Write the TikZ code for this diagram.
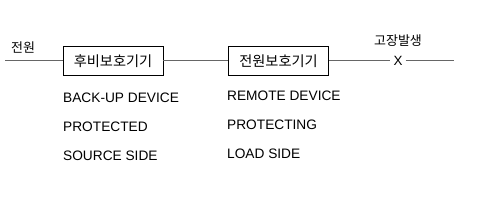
\documentclass[tikz,border=0pt]{standalone}
\usepackage{fontspec}
\setmainfont{Liberation Sans}
\newfontfamily\kr{Noto Sans CJK KR}
\begin{document}
\begin{tikzpicture}[x=1pt,y=1pt,
  devbox/.style={draw=black,line width=0.9pt,inner sep=0pt,minimum width=100pt,minimum height=29pt,font=\kr\fontsize{14.2}{16}\selectfont},
  conn/.style={draw=black!60,line width=1pt},
  lbl/.style={anchor=base west,inner sep=0pt,font=\fontsize{13.7}{16}\selectfont},
  krlbl/.style={inner sep=0pt,font=\kr\fontsize{13}{14}\selectfont}]
\useasboundingbox (0,0) rectangle (490,-205);
\coordinate (s) at (5,-61);
\node[devbox] (b1) at (113,-61) {후비보호기기};
\node[devbox] (b2) at (278.5,-61) {전원보호기기};
\node[inner sep=3pt,font=\fontsize{13.4}{16}\selectfont] (x) at (398,-61) {X};
\coordinate (e) at (454,-61);
\draw[conn] (s) -- (b1);
\draw[conn] (b1) -- (b2);
\draw[conn] (b2) -- (x);
\draw[conn] (x) -- (e);
\node[krlbl] (src) at (23,-48) {전원};
\node[krlbl] (flt) at (398,-41) {고장발생};
\node[lbl] (l1) at (63,-102.7) {BACK-UP DEVICE};
\node[lbl] (l2) at (63,-131.7) {PROTECTED};
\node[lbl] (l3) at (63,-161) {SOURCE SIDE};
\node[lbl] (r1) at (227,-100.7) {REMOTE DEVICE};
\node[lbl] (r2) at (227,-129.7) {PROTECTING};
\node[lbl] (r3) at (227,-159) {LOAD SIDE};
\end{tikzpicture}
\end{document}
